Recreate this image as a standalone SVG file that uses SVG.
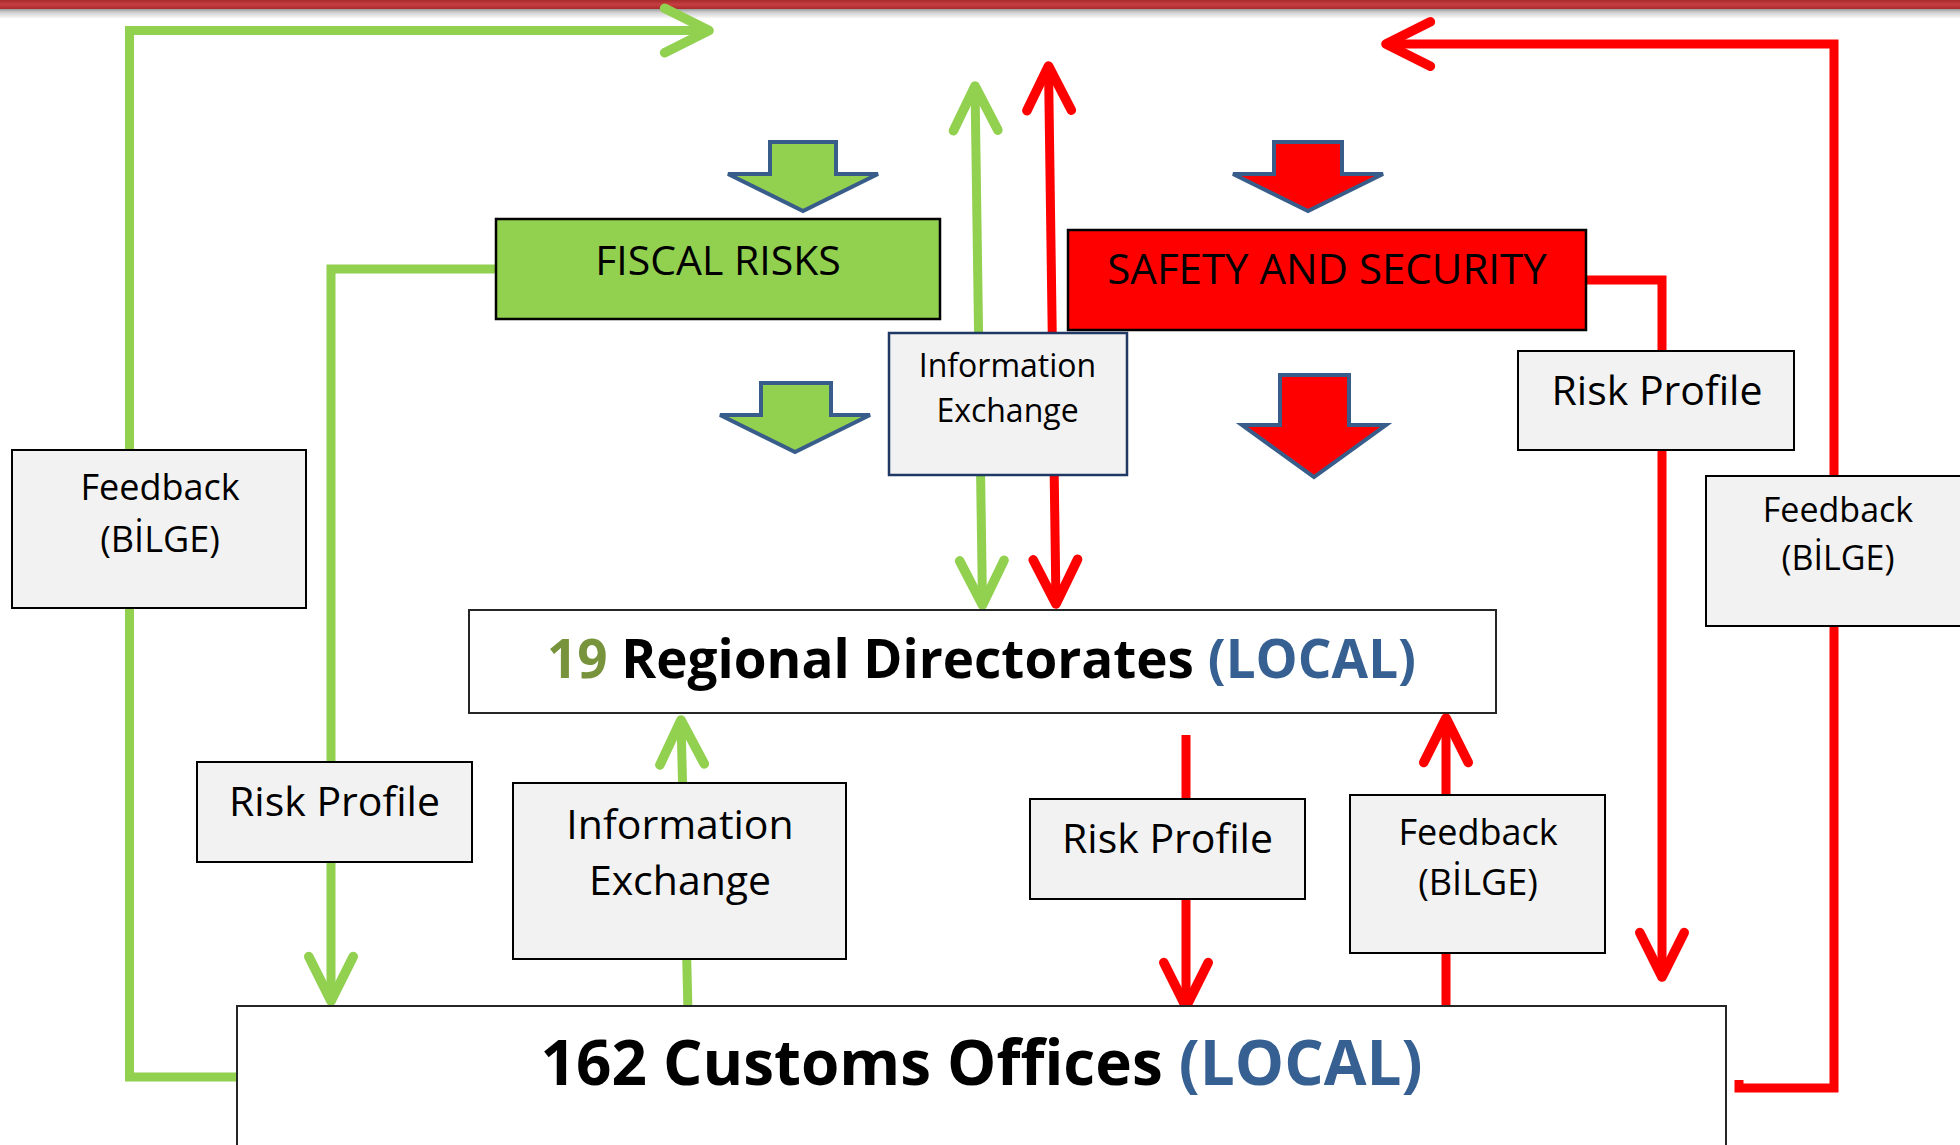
<svg xmlns="http://www.w3.org/2000/svg" width="1960" height="1145" viewBox="0 0 1960 1145">
<defs>
<linearGradient id="band" x1="0" y1="0" x2="0" y2="1">
<stop offset="0" stop-color="#A62A2D"/>
<stop offset="0.5" stop-color="#C73E40"/>
<stop offset="1" stop-color="#A82C2E"/>
</linearGradient>
<linearGradient id="shadow" x1="0" y1="0" x2="0" y2="1">
<stop offset="0" stop-color="#8A8A8A"/>
<stop offset="0.4" stop-color="#CFCFCF"/>
<stop offset="1" stop-color="#FFFFFF"/>
</linearGradient>
<marker id="ag" markerUnits="userSpaceOnUse" markerWidth="60" markerHeight="60" viewBox="-45 -25 50 50" refX="0" refY="0" orient="auto-start-reverse" overflow="visible">
<path d="M-37,-18.5 L0,0 L-37,18.5" fill="none" stroke="#92D050" stroke-width="8" stroke-linecap="round" stroke-linejoin="round"/>
</marker>
<marker id="ar" markerUnits="userSpaceOnUse" markerWidth="60" markerHeight="60" viewBox="-45 -25 50 50" refX="0" refY="0" orient="auto-start-reverse" overflow="visible">
<path d="M-37,-18.5 L0,0 L-37,18.5" fill="none" stroke="#FF0000" stroke-width="8" stroke-linecap="round" stroke-linejoin="round"/>
</marker>
</defs>
<style>
.g{fill:none;stroke:#92D050;stroke-width:9;}
.r{fill:none;stroke:#FF0000;stroke-width:9;}
.box{fill:#F2F2F2;stroke:#000;stroke-width:2;}
.wbox{fill:#FFFFFF;stroke:#262626;stroke-width:2;}
.blk{stroke:#385D8A;stroke-width:4;stroke-linejoin:miter;}
text{font-family:"Open Sans","Liberation Sans",sans-serif;fill:#000;text-anchor:middle;}
.t41{font-size:41px;}
.t36{font-size:36px;}
.big{font-weight:bold;}
.n19{fill:#77933C;}
.loc{fill:#376092;}
</style>
<rect x="0" y="0" width="1960" height="1145" fill="#FFFFFF"/>
<rect x="0" y="8" width="1960" height="11" fill="url(#shadow)"/>
<rect x="0" y="0" width="1960" height="9" fill="url(#band)"/>

<g id="connectors">
<polyline class="g" points="237,1077 129.5,1077 129.5,30.5 709,30.5" marker-end="url(#ag)"/>
<polyline class="g" points="496,269 331,269 331,762"/>
<line class="g" x1="331" y1="862" x2="331" y2="1001" marker-end="url(#ag)"/>
<line class="g" x1="982.5" y1="605" x2="975" y2="86" marker-start="url(#ag)" marker-end="url(#ag)"/>
<line class="g" x1="688" y1="1012" x2="681" y2="720" marker-end="url(#ag)"/>
<polyline class="r" points="1739,1080 1739,1088 1834,1088 1834,44 1386,44" marker-end="url(#ar)"/>
<polyline class="r" points="1586,280 1662,280 1662,351"/>
<line class="r" x1="1662" y1="450" x2="1662" y2="977" marker-end="url(#ar)"/>
<line class="r" x1="1056" y1="604" x2="1048.5" y2="66" marker-start="url(#ar)" marker-end="url(#ar)"/>
<line class="r" x1="1186" y1="735" x2="1186" y2="798"/>
<line class="r" x1="1186" y1="899" x2="1186" y2="1007" marker-end="url(#ar)"/>
<line class="r" x1="1446" y1="1010" x2="1446" y2="718" marker-end="url(#ar)"/>
</g>

<g id="arrow-fiscal-top"><path class="blk" fill="#92D050" d="M770,142 H836 V174 H878 L803,211 L728,174 H770 Z"/></g>
<g id="arrow-fiscal-bottom"><path class="blk" fill="#92D050" d="M761,383 H831 V415 H870 L795,452 L720,415 H761 Z"/></g>
<g id="arrow-safety-top"><path class="blk" fill="#FF0000" d="M1274,142 H1342 V174 H1383 L1308,211 L1233,174 H1274 Z"/></g>
<g id="arrow-safety-bottom"><path class="blk" fill="#FF0000" d="M1280,375 H1349 V425 H1386 L1314,477 L1242,425 H1280 Z"/></g>

<g id="fiscal-risks">
<rect x="496" y="219" width="444" height="100" fill="#92D050" stroke="#000" stroke-width="2.5"/>
<text x="718" y="275" font-size="41">FISCAL RISKS</text>
</g>
<g id="safety-security">
<rect x="1068" y="230" width="518" height="100" fill="#FF0000" stroke="#000" stroke-width="2.5"/>
<text x="1327" y="284" font-size="42">SAFETY AND SECURITY</text>
</g>
<g id="info-exchange-top">
<rect x="889" y="333" width="238" height="142" fill="#F2F2F2" stroke="#1F3864" stroke-width="2.5"/>
<text x="1007.5" y="377" font-size="32">Information</text>
<text x="1007.5" y="422" font-size="32">Exchange</text>
</g>
<g id="risk-profile-right">
<rect class="box" x="1518" y="351" width="276" height="99"/>
<text class="t41" x="1657" y="405">Risk Profile</text>
</g>
<g id="feedback-left">
<rect class="box" x="12" y="450" width="294" height="158"/>
<text class="t36" x="160" y="500">Feedback</text>
<text class="t36" x="160" y="552">(BİLGE)</text>
</g>
<g id="feedback-right">
<rect class="box" x="1706" y="476" width="262" height="150"/>
<text x="1838" y="522" font-size="34">Feedback</text>
<text x="1838" y="570" font-size="34">(BİLGE)</text>
</g>
<g id="regional-directorates">
<rect class="wbox" x="469" y="610" width="1027" height="103"/>
<text class="big" x="981.5" y="678" font-size="53"><tspan class="n19">19</tspan> Regional Directorates <tspan class="loc">(LOCAL)</tspan></text>
</g>
<g id="risk-profile-left">
<rect class="box" x="197" y="762" width="275" height="100"/>
<text class="t41" x="334.5" y="816">Risk Profile</text>
</g>
<g id="info-exchange-bottom">
<rect class="box" x="513" y="783" width="333" height="176"/>
<text class="t41" x="680" y="839">Information</text>
<text class="t41" x="680" y="895">Exchange</text>
</g>
<g id="risk-profile-bottom">
<rect class="box" x="1030" y="799" width="275" height="100"/>
<text class="t41" x="1167.5" y="853">Risk Profile</text>
</g>
<g id="feedback-bottom">
<rect class="box" x="1350" y="795" width="255" height="158"/>
<text class="t36" x="1478" y="845">Feedback</text>
<text class="t36" x="1478" y="895">(BİLGE)</text>
</g>
<g id="customs-offices">
<rect class="wbox" x="237" y="1006" width="1489" height="150"/>
<text class="big" x="981.5" y="1085" font-size="62">162 Customs Offices <tspan class="loc">(LOCAL)</tspan></text>
</g>
</svg>
